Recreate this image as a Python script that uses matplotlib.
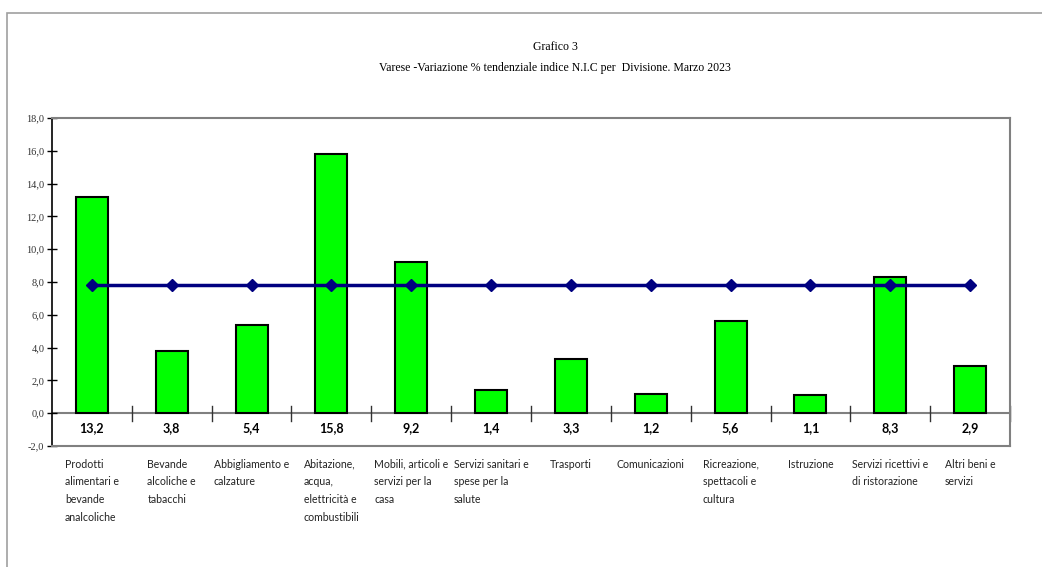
import matplotlib.pyplot as plt
from matplotlib.patches import Rectangle

# categories (divisions)
categories = [
    "Prodotti\nalimentari e\nbevande\nanalcoliche",
    "Bevande\nalcoliche e\ntabacchi",
    "Abbigliamento e\ncalzature",
    "Abitazione,\nacqua,\nelettricità e\ncombustibili",
    "Mobili, articoli e\nservizi per la\ncasa",
    "Servizi sanitari e\nspese per la\nsalute",
    "Trasporti",
    "Comunicazioni",
    "Ricreazione,\nspettacoli e\ncultura",
    "Istruzione",
    "Servizi ricettivi e\ndi ristorazione",
    "Altri beni e\nservizi",
]
values = [13.2, 3.8, 5.4, 15.8, 9.2, 1.4, 3.3, 1.2, 5.6, 1.1, 8.3, 2.9]
general_index = [7.8] * 12
yticks = [-2, 0, 2, 4, 6, 8, 10, 12, 14, 16, 18]

fig = plt.figure(figsize=(10.42, 5.67), dpi=100)
ax = fig.add_axes([0.0499, 0.2134, 0.9194, 0.5785])

# outer frame of the chart
fig.patches.append(Rectangle((0.0067, -0.05), 1.1, 1.027, transform=fig.transFigure,
                             fill=False, edgecolor="#a0a0a0", linewidth=1.2))

x = list(range(len(values)))
ax.bar(x, values, width=0.4, color="#00ff00", edgecolor="black", linewidth=1.5, zorder=2)
ax.plot(x, general_index, color="#000080", linewidth=2.5, marker="D", markersize=6, zorder=3)

ax.set_xlim(-0.5, len(values) - 0.5)
ax.set_ylim(-2, 18)
ax.set_yticks(yticks)
ax.set_yticklabels([f"{v:.1f}".replace(".", ",") for v in yticks],
                   fontfamily="Liberation Serif", fontsize=7.5, color="#333333")
ax.tick_params(axis="y", direction="inout", length=7, width=1, color="black", pad=2)
ax.set_xticks([])

for s in ["top", "right", "bottom"]:
    ax.spines[s].set_color("#808080")
    ax.spines[s].set_linewidth(1.5)
ax.spines["left"].set_color("black")
ax.spines["left"].set_linewidth(1.2)

# zero axis with category separator ticks
ax.axhline(0, color="#808080", linewidth=1.5, zorder=1)
for b in range(1, len(values) + 1):
    ax.plot([b - 0.5, b - 0.5], [-0.45, 0.45], color="#333333", linewidth=1, zorder=1,
            clip_on=False)

# value labels between 0 and -2
for i, v in enumerate(values):
    ax.text(i, -0.9, f"{v:.1f}".replace(".", ","), ha="center", va="center",
            fontsize=9, fontweight="bold", fontfamily="Lato")

# category labels under the plot
for i, c in enumerate(categories):
    ax.annotate(c, xy=(i, -2), xycoords="data", xytext=(0, -9), textcoords="offset points",
                ha="center", va="top", multialignment="left", fontsize=7.6,
                fontfamily="Lato", color="#222222", linespacing=1.75)

fig.text(0.533, 0.917, "Grafico 3", ha="center", va="center",
         fontfamily="Liberation Serif", fontsize=8.5)
fig.text(0.533, 0.880, "Varese -Variazione % tendenziale indice N.I.C per  Divisione. Marzo 2023",
         ha="center", va="center", fontfamily="Liberation Serif", fontsize=8.5)

fig.savefig("out.png", dpi=100)
